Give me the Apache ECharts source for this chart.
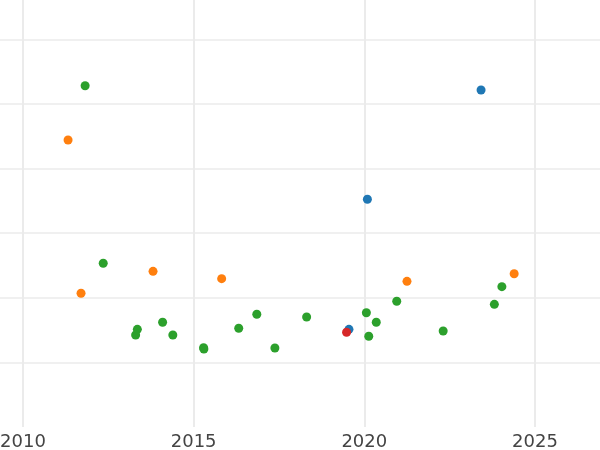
<!DOCTYPE html>
<html>
<head>
<meta charset="utf-8">
<script src="https://cdn.jsdelivr.net/npm/echarts@6/dist/echarts.min.js"></script>
<style>html,body{margin:0;padding:0;background:#fff}#c{width:600px;height:450px}</style>
</head>
<body>
<div id="c"></div>
<script>
// Data: [year, value]
const blueSeries = [[2023.42, 5.217], [2020.09, 3.525], [2019.55, 1.512]];
const orangeSeries = [[2011.32, 4.443], [2011.70, 2.070], [2013.81, 2.410], [2015.82, 2.296], [2021.25, 2.255], [2024.39, 2.373]];
const greenSeries = [
  [2011.82, 5.283], [2012.35, 2.534], [2013.35, 1.512], [2013.30, 1.424], [2014.09, 1.621],
  [2014.39, 1.424], [2015.29, 1.228], [2015.30, 1.207], [2016.32, 1.528], [2016.85, 1.745],
  [2017.38, 1.223], [2018.31, 1.703], [2020.06, 1.769], [2020.35, 1.621], [2020.13, 1.404],
  [2020.95, 1.946], [2022.31, 1.486], [2023.81, 1.899], [2024.03, 2.172]
];
const redSeries = [[2019.48, 1.466]];
const xTickYears = [2010, 2015, 2020, 2025];

const gridColor = '#ebebeb';
const chart = echarts.init(document.getElementById('c'), null, {renderer: 'canvas'});
const mk = (data, color) => ({
  type: 'scatter', xAxisIndex: 0, yAxisIndex: 0, data: data,
  symbolSize: 9, itemStyle: {color: color, opacity: 1}, silent: true
});
chart.setOption({
  animation: false,
  backgroundColor: '#fff',
  grid: [
    {left: 0, right: 0, top: 0, bottom: 23, containLabel: false, outerBoundsMode: 'none'},
    {left: 23, right: 0, top: 0, bottom: 23, containLabel: false, outerBoundsMode: 'none'}
  ],
  xAxis: [
    {type: 'value', gridIndex: 0, min: 2009.326, max: 2026.905, show: true,
     axisLine: {show: false}, axisTick: {show: false}, axisLabel: {show: false}, splitLine: {show: false}},
    {type: 'value', gridIndex: 1, min: xTickYears[0], max: 2026.905, interval: 5,
     axisLine: {show: false}, axisTick: {show: false},
     axisLabel: {show: true, color: '#444', fontSize: 18, fontFamily: 'DejaVu Sans', margin: 6,
       showMaxLabel: false, hideOverlap: false, formatter: v => String(v)},
     splitLine: {show: true, showMaxLine: false, lineStyle: {color: gridColor, width: 2}}}
  ],
  yAxis: [
    {type: 'value', gridIndex: 0, min: 0, max: 6.61, interval: 1,
     axisLine: {show: false}, axisTick: {show: false}, axisLabel: {show: false},
     splitLine: {show: true, showMinLine: false, showMaxLine: false, lineStyle: {color: gridColor, width: 1.5}}},
    {type: 'value', gridIndex: 1, min: 0, max: 6.61, show: false, splitLine: {show: false}}
  ],
  series: [
    mk(blueSeries, '#1f77b4'),
    mk(orangeSeries, '#ff7f0e'),
    mk(greenSeries, '#2ca02c'),
    mk(redSeries, '#d62728')
  ]
});
</script>
</body>
</html>
